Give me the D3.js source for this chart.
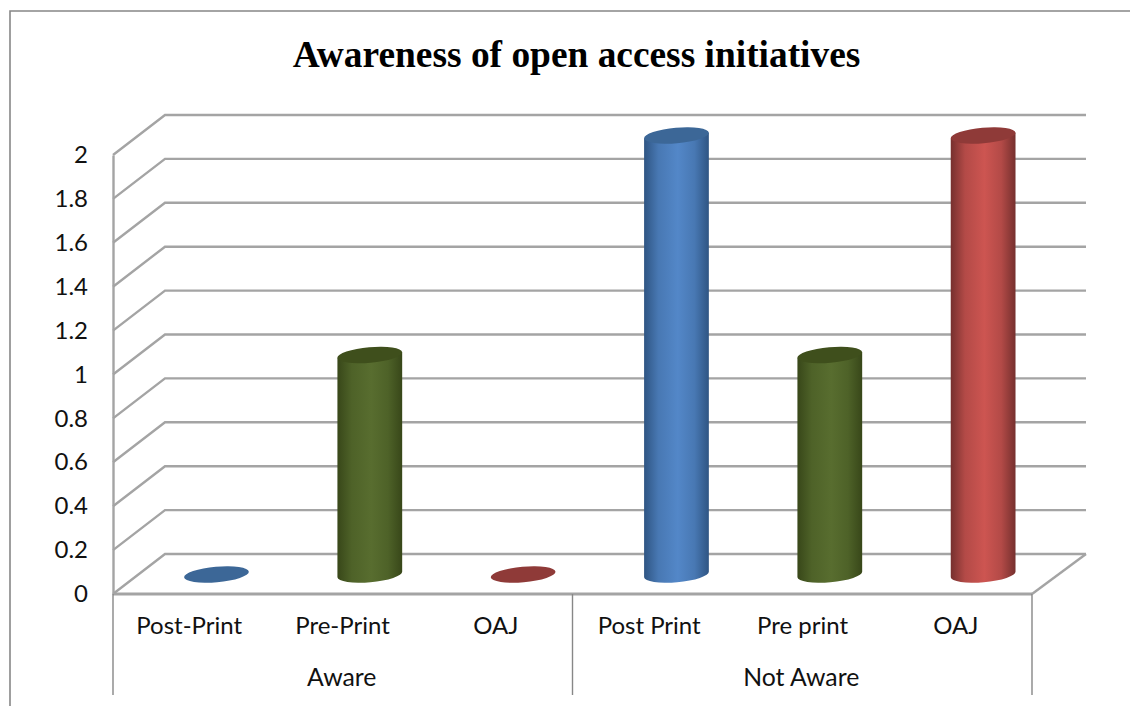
<!DOCTYPE html>
<html>
<head>
<meta charset="utf-8">
<script src="https://cdn.jsdelivr.net/npm/d3@7/dist/d3.min.js"></script>
<style>
  html, body { margin: 0; padding: 0; background: #fff; }
  svg { display: block; }
  text { font-family: Lato, "Open Sans", sans-serif; fill: #111; }
</style>
</head>
<body>
<svg id="chart" width="1130" height="706"></svg>
<script>
// Chart content
const chartTitle = "Awareness of open access initiatives";
const categories = ["Post-Print", "Pre-Print", "OAJ", "Post Print", "Pre print", "OAJ"];
const groups = ["Aware", "Not Aware"];
const values = [0, 1, 0, 2, 1, 2];
const tickValues = [0, 0.2, 0.4, 0.6, 0.8, 1, 1.2, 1.4, 1.6, 1.8, 2];

// Each cylinder cycles through three colour ramps: edge, middle, cap
const ramps = [
  { edge: "#2f5583", mid: "#5387c8", cap: "#3c6797" },
  { edge: "#384719", mid: "#586d2f", cap: "#3f4f1c" },
  { edge: "#76302e", mid: "#cd5551", cap: "#8f3a38" }
];

const svg = d3.select("#chart");
const depth = { dx: 52, dy: -40 };
const plot = { left: 113, right: 1033, top: 155, bottom: 594 };

const y = d3.scaleLinear().domain([0, 2]).range([plot.bottom, plot.top]);
const x = d3.scaleBand().domain(d3.range(categories.length)).range([plot.left, plot.right]);
const groupX = d3.scaleBand().domain(groups).range([plot.left, plot.right - 1]);

const gridColor = "#a4a4a4";
const frameColor = "#878787";
const labelSize = "24px";

// Outer frame, open on the right and at the bottom
svg.append("path")
  .attr("d", "M10,706V11H1130")
  .attr("fill", "none").attr("stroke", frameColor).attr("stroke-width", 1.6);

svg.append("text")
  .attr("x", 576.5).attr("y", 67).attr("text-anchor", "middle")
  .style("font-family", "'Liberation Serif', serif")
  .style("font-weight", "bold").style("font-size", "37.4px").style("fill", "#000")
  .text(chartTitle);

// Back wall gridlines and the left wall diagonals
const grid = svg.append("g").attr("fill", "none").attr("stroke", gridColor).attr("stroke-width", 2.4);
grid.selectAll("path").data(tickValues).join("path")
  .attr("d", v => d3.line()([
    [plot.left, y(v)],
    [plot.left + depth.dx, y(v) + depth.dy],
    [plot.right + depth.dx + 1, y(v) + depth.dy]
  ]));

// Right edge of the floor
grid.append("path").attr("d", d3.line()([
  [plot.right + depth.dx + 1, y(0) + depth.dy],
  [plot.right - 1, y(0)]
]));

// Value axis
const yAxis = d3.axisLeft(y).tickValues(tickValues).tickSize(0).tickPadding(25).tickFormat(d3.format("~g"));
const yG = svg.append("g").attr("transform", `translate(${plot.left},0)`).call(yAxis);
yG.select(".domain").attr("stroke", gridColor).attr("stroke-width", 2.4);
yG.selectAll("text").style("font-size", labelSize).style("font-family", "Lato, sans-serif").attr("fill", "#111");

// Front edge of the floor
svg.append("line")
  .attr("x1", plot.left).attr("x2", plot.right - 1)
  .attr("y1", y(0)).attr("y2", y(0))
  .attr("stroke", gridColor).attr("stroke-width", 3);

// Dividers between the two category groups
const dividerX = [plot.left, plot.left + groupX.bandwidth(), plot.right - 1];
svg.append("g").selectAll("line").data(dividerX).join("line")
  .attr("x1", d => d).attr("x2", d => d)
  .attr("y1", y(0)).attr("y2", 695)
  .attr("stroke", frameColor).attr("stroke-width", 1.4);

// Category and group labels
svg.append("g").selectAll("text").data(categories).join("text")
  .attr("x", (d, i) => x(i) + x.bandwidth() / 2 - 0.5).attr("y", 634)
  .attr("text-anchor", "middle").style("font-size", labelSize)
  .text(d => d);

svg.append("g").selectAll("text").data(groups).join("text")
  .attr("x", d => groupX(d) + groupX.bandwidth() / 2 - 1).attr("y", 686)
  .attr("text-anchor", "middle").style("font-size", "24.8px")
  .text(d => d);

// Horizontal shading across each cylinder
const defs = svg.append("defs");
ramps.forEach((r, i) => {
  const g = defs.append("linearGradient").attr("id", `shade${i}`)
    .attr("x1", "0").attr("x2", "1").attr("y1", "0").attr("y2", "0");
  [[0, r.edge], [0.22, d3.interpolateRgb(r.edge, r.mid)(0.7)], [0.52, r.mid],
   [0.78, d3.interpolateRgb(r.edge, r.mid)(0.7)], [1, r.edge]]
    .forEach(([o, c]) => g.append("stop").attr("offset", o).attr("stop-color", c));
});

// Cylinders stand midway into the floor depth
const rx = 32.5, ry = 7.8, tilt = -5;
const rad = tilt * Math.PI / 180;
const edgeX = rx * Math.cos(rad), edgeY = rx * Math.sin(rad);
const barShiftX = depth.dx / 2 + 0.8;
const barShiftY = -19.5;

const bars = svg.append("g").selectAll("g").data(values).join("g")
  .attr("transform", (d, i) => `translate(${x(i) + x.bandwidth() / 2 + barShiftX},0)`);

bars.each(function (v, i) {
  const g = d3.select(this);
  const r = i % ramps.length;
  const yBase = y(0) + barShiftY;
  const yTop = y(v) + barShiftY;
  if (v > 0) {
    g.append("path")
      .attr("d",
        `M${-edgeX},${yTop - edgeY}` +
        `L${-edgeX},${yBase - edgeY}` +
        `A${rx},${ry} ${tilt} 0 0 ${edgeX},${yBase + edgeY}` +
        `L${edgeX},${yTop + edgeY}Z`)
      .attr("fill", `url(#shade${r})`);
  }
  g.append("ellipse")
    .attr("rx", rx).attr("ry", ry)
    .attr("transform", `translate(0,${yTop}) rotate(${tilt})`)
    .attr("fill", ramps[r].cap);
});
</script>
</body>
</html>
